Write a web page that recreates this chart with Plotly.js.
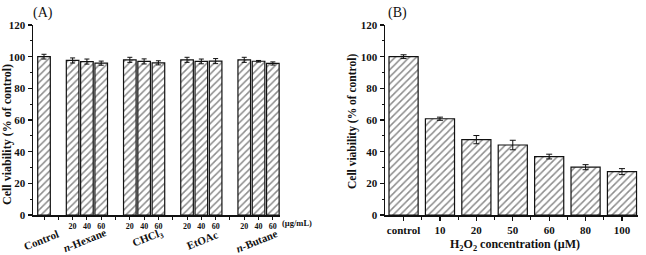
<!DOCTYPE html>
<html>
<head>
<meta charset="utf-8">
<script src="https://cdn.plot.ly/plotly-3.0.1.min.js"></script>
<style>
  html, body { margin: 0; padding: 0; background: #fff; }
  #chart { width: 646px; height: 255px; }
</style>
</head>
<body>
<div id="chart"></div>
<script>
// Panel A: extract fractions at three doses (µg/mL)
const extractGroups = ['Control', '<i>n</i>-Hexane', 'CHCl<sub>3</sub>', 'EtOAc', '<i>n</i>-Butane'];
const doseLabels = ['20', '40', '60'];
const controlValue = 100.0;
const controlError = 1.5;
const extractValues = [
  [97.6, 96.9, 95.9],   // n-Hexane
  [98.0, 97.0, 96.1],   // CHCl3
  [98.0, 97.0, 97.2],   // EtOAc
  [98.0, 97.1, 95.7]    // n-Butane
];
const extractErrors = [
  [1.6, 1.6, 1.3],
  [1.6, 1.6, 1.3],
  [1.6, 1.5, 1.6],
  [1.6, 0.5, 1.0]
];

// Panel B: H2O2 concentration series (µM)
const h2o2Labels = ['control', '10', '20', '50', '60', '80', '100'];
const h2o2Values = [100.0, 60.8, 47.6, 44.2, 36.9, 30.2, 27.4];
const h2o2Errors = [1.2, 1.0, 2.6, 3.0, 1.5, 1.6, 1.9];

const W = 646, H = 255;
const px = x => x / W;
const py = y => 1 - y / H;

const serif = 'Liberation Serif, Times New Roman, serif';
const ink = '#111';

// Bar positions for panel A: control at 0, each extract group of three after a gap
const aX = [0], aY = [controlValue], aE = [controlError];
const aTickVals = [], aTickText = [];
extractValues.forEach((vals, g) => {
  vals.forEach((v, i) => {
    const pos = 4 * g + 2 + i;
    aX.push(pos);
    aY.push(v);
    aE.push(extractErrors[g][i]);
    aTickVals.push(pos);
    aTickText.push(doseLabels[i]);
  });
});
// unlabeled ticks: under the control bar and in the gaps between groups
const aPlainTicks = [0, 1].concat(extractValues.slice(1).map((_, g) => 4 * g + 5));
const groupCenters = [0].concat(extractValues.map((_, g) => 4 * g + 3));

const hatch = {shape: '/', fgcolor: '#1a1a1a', bgcolor: '#fff', size: 5, solidity: 0.3, fillmode: 'overlay'};

const traceA = {
  type: 'bar', x: aX, y: aY, width: 0.88,
  xaxis: 'x', yaxis: 'y',
  marker: {color: '#fff', pattern: hatch, line: {color: ink, width: 1.2}},
  error_y: {type: 'data', array: aE, visible: true, color: ink, thickness: 1, width: 2.5},
  hoverinfo: 'skip'
};

const bX = h2o2Labels.map((_, i) => i);
const traceB = {
  type: 'bar', x: bX, y: h2o2Values, width: 0.8,
  xaxis: 'x2', yaxis: 'y2',
  marker: {color: '#fff', pattern: hatch, line: {color: ink, width: 1.2}},
  error_y: {type: 'data', array: h2o2Errors, visible: true, color: ink, thickness: 1, width: 3},
  hoverinfo: 'skip'
};

const yAxisBase = {
  range: [0, 120], tickvals: [0, 20, 40, 60, 80, 100, 120],
  showline: true, linecolor: ink, linewidth: 1.5, mirror: false,
  ticks: 'outside', ticklen: 4, tickwidth: 1.2, tickcolor: ink,
  minor: {tickmode: 'array', tickvals: [10, 30, 50, 70, 90, 110], ticks: 'outside', ticklen: 2, tickwidth: 1, tickcolor: ink},
  showgrid: false, zeroline: false,
  tickfont: {family: serif, size: 11, color: ink, weight: 'bold'}
};

const layout = {
  width: W, height: H,
  margin: {l: 0, r: 0, t: 0, b: 0},
  paper_bgcolor: '#fff', plot_bgcolor: '#fff',
  showlegend: false,
  xaxis: {
    domain: [px(33), px(280)], anchor: 'y',
    range: [-0.77, 16.5],
    tickmode: 'array', tickvals: aTickVals, ticktext: aTickText,
    minor: {tickmode: 'array', tickvals: aPlainTicks, ticks: 'outside', ticklen: 3, tickwidth: 1, tickcolor: ink},
    showline: true, linecolor: ink, linewidth: 1.5,
    ticks: 'outside', ticklen: 3, tickwidth: 1, tickcolor: ink,
    tickfont: {family: serif, size: 8, color: ink, weight: 'bold'},
    showgrid: false, zeroline: false
  },
  yaxis: Object.assign({}, yAxisBase, {domain: [py(215), py(25)], anchor: 'x'}),
  xaxis2: {
    domain: [px(385), px(638)], anchor: 'y2',
    range: [-0.51, 6.44],
    tickmode: 'array', tickvals: bX, ticktext: h2o2Labels,
    minor: {tickmode: 'array', tickvals: bX.slice(0, -1).map(v => v + 0.5), ticks: 'outside', ticklen: 3, tickwidth: 1, tickcolor: ink},
    showline: true, linecolor: ink, linewidth: 1.5,
    ticks: 'outside', ticklen: 4, tickwidth: 1.2, tickcolor: ink,
    tickfont: {family: serif, size: 11, color: ink, weight: 'bold'},
    showgrid: false, zeroline: false
  },
  yaxis2: Object.assign({}, yAxisBase, {domain: [py(215), py(25)], anchor: 'x2'}),
  annotations: []
};

const ann = layout.annotations;
// Panel letters
ann.push({text: '(A)', xref: 'paper', yref: 'paper', x: px(43), y: py(13), showarrow: false,
  xanchor: 'center', yanchor: 'middle', font: {family: serif, size: 14, color: ink}});
ann.push({text: '(B)', xref: 'paper', yref: 'paper', x: px(397), y: py(13), showarrow: false,
  xanchor: 'center', yanchor: 'middle', font: {family: serif, size: 14, color: ink}});

// Y axis titles
ann.push({text: 'Cell viability (% of control)', xref: 'paper', yref: 'paper', x: px(7), y: py(135),
  textangle: -90, showarrow: false, xanchor: 'center', yanchor: 'middle',
  font: {family: serif, size: 12, color: ink, weight: 'bold'}});
ann.push({text: 'Cell viability (% of control)', xref: 'paper', yref: 'paper', x: px(352), y: py(122),
  textangle: -90, showarrow: false, xanchor: 'center', yanchor: 'middle',
  font: {family: serif, size: 11.5, color: ink, weight: 'bold'}});

// Panel A group names, tilted under each group
const groupShift = [-3, -2, 4, 1, -2];
const groupDrop = [240, 240, 238, 240, 241];
extractGroups.forEach((name, g) => {
  ann.push({text: name, xref: 'x', yref: 'paper', x: groupCenters[g], xshift: groupShift[g], y: py(groupDrop[g]),
    textangle: -22, showarrow: false, xanchor: 'center', yanchor: 'middle',
    font: {family: serif, size: 11, color: ink, weight: 'bold'}});
});
// Dose unit
ann.push({text: '(µg/mL)', xref: 'paper', yref: 'paper', x: px(297), y: py(223), showarrow: false,
  xanchor: 'center', yanchor: 'middle', font: {family: serif, size: 8.5, color: ink, weight: 'bold'}});

// Panel B x title
ann.push({text: 'H<sub>2</sub>O<sub>2</sub> concentration (µM)', xref: 'paper', yref: 'paper', x: px(515), y: py(245),
  showarrow: false, xanchor: 'center', yanchor: 'middle',
  font: {family: serif, size: 12, color: ink, weight: 'bold'}});

Plotly.newPlot('chart', [traceA, traceB], layout, {staticPlot: true, displayModeBar: false});
</script>
</body>
</html>
